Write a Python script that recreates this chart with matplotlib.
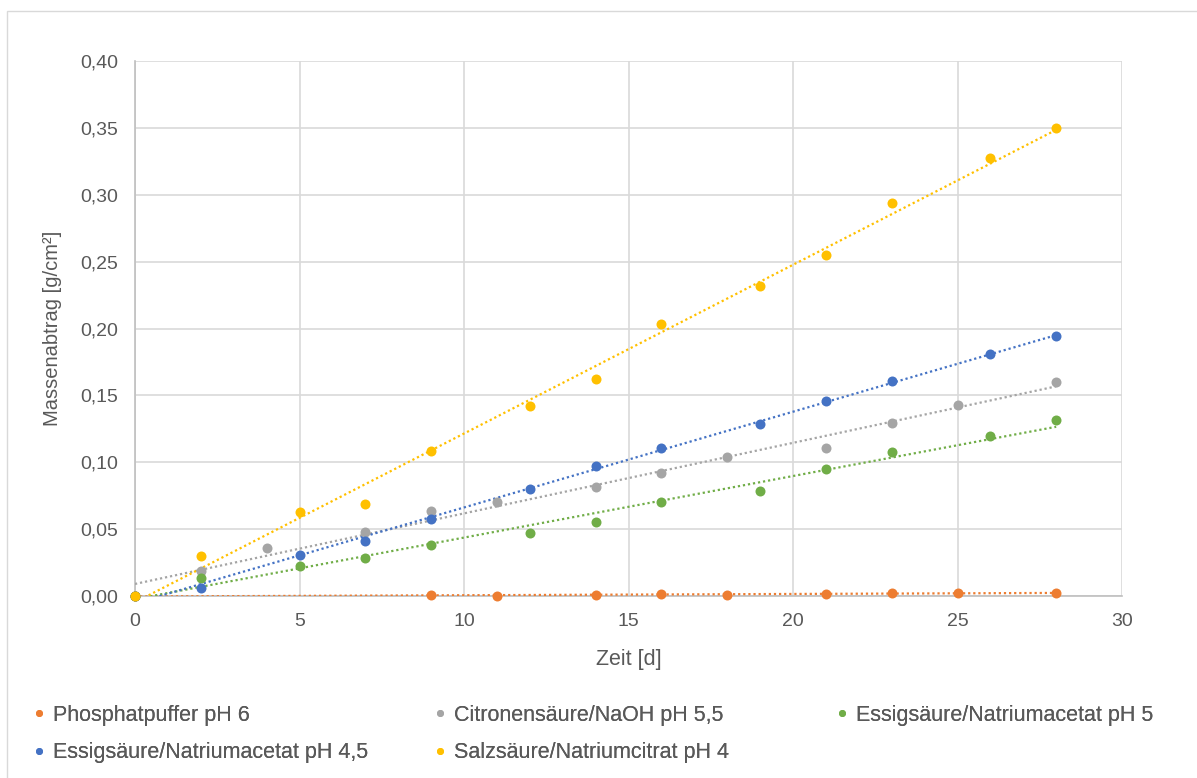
import numpy as np
import matplotlib
matplotlib.use("Agg")
import matplotlib.pyplot as plt
from matplotlib.lines import Line2D
from matplotlib.patches import Rectangle
from matplotlib.ticker import FuncFormatter

plt.rcParams['font.family'] = ['Liberation Sans', 'DejaVu Sans']

# ---- data ----
x_orange = [0, 9, 11, 14, 16, 18, 21, 23, 25, 28]
y_orange = [0.0, 0.0005, 0.0002, 0.0005, 0.0015, 0.0010, 0.0017, 0.0022, 0.0022, 0.0022]

x_gray = [0, 2, 4, 7, 9, 11, 14, 16, 18, 21, 23, 25, 28]
y_gray = [0.0, 0.019, 0.0357, 0.0479, 0.0638, 0.0705, 0.0815, 0.0917, 0.104, 0.1104, 0.1291, 0.1426, 0.160]

x_green = [0, 2, 5, 7, 9, 12, 14, 16, 19, 21, 23, 26, 28]
y_green = [0.0, 0.0135, 0.0227, 0.0282, 0.038, 0.0474, 0.0551, 0.0703, 0.0783, 0.0947, 0.1077, 0.1196, 0.1316]

x_blue = [0, 2, 5, 7, 9, 12, 14, 16, 19, 21, 23, 26, 28]
y_blue = [0.0, 0.0062, 0.0304, 0.0409, 0.0573, 0.080, 0.0972, 0.1104, 0.1284, 0.1455, 0.1607, 0.1812, 0.1946]

x_yellow = [0, 2, 5, 7, 9, 12, 14, 16, 19, 21, 23, 26, 28]
y_yellow = [0.0, 0.030, 0.0626, 0.0688, 0.1087, 0.142, 0.162, 0.2030, 0.2318, 0.255, 0.2938, 0.3277, 0.3497]

labels = ["Phosphatpuffer pH 6", "Citronensäure/NaOH pH 5,5",
          "Essigsäure/Natriumacetat pH 5", "Essigsäure/Natriumacetat pH 4,5",
          "Salzsäure/Natriumcitrat pH 4"]
colors = ["#ED7D31", "#A5A5A5", "#70AD47", "#4472C4", "#FFC000"]
series = [(x_orange, y_orange), (x_gray, y_gray), (x_green, y_green),
          (x_blue, y_blue), (x_yellow, y_yellow)]

x_ticks = [0, 5, 10, 15, 20, 25, 30]
y_ticks = [0.0, 0.05, 0.10, 0.15, 0.20, 0.25, 0.30, 0.35, 0.40]

# ---- figure ----
W, H = 1197, 778
fig = plt.figure(figsize=(W / 100, H / 100), dpi=100)
ax = fig.add_axes([135 / W, 1 - 596 / H, (1122 - 135) / W, (596 - 61) / H])

# border of chart area
fig.add_artist(Rectangle((7 / W, -0.1), 1.2, 1 - 11.5 / H + 0.1, transform=fig.transFigure,
                         fill=False, edgecolor="#d9d9d9", linewidth=1.0))

handles = []
for (xs, ys), c, lab in zip(series, colors, labels):
    xs = np.array(xs, float)
    ys = np.array(ys, float)
    m, b = np.polyfit(xs, ys, 1)
    xt = np.linspace(xs.min(), xs.max(), 200)
    ax.plot(xt, m * xt + b, color=c, linewidth=1.6, linestyle=(0, (1, 1.3)),
            zorder=3, clip_on=True)
    ax.plot(xs, ys, 'o', color=c, markersize=7.2, markeredgewidth=0, zorder=4,
            clip_on=False)
    handles.append(Line2D([], [], marker='o', linestyle='none', color=c,
                          markersize=5, markeredgewidth=0, label=lab))

ax.set_xlim(0, 30)
ax.set_ylim(0, 0.40)
ax.set_xticks(x_ticks)
ax.set_yticks(y_ticks)
ax.yaxis.set_major_formatter(FuncFormatter(lambda v, p: f"{v:.2f}".replace('.', ',')))
ax.xaxis.set_major_formatter(FuncFormatter(lambda v, p: f"{int(round(v))}"))
ax.grid(True, color="#d9d9d9", linewidth=1.2)
ax.set_axisbelow(True)
for s in ['top', 'right']:
    ax.spines[s].set_visible(False)
for s in ['left', 'bottom']:
    ax.spines[s].set_color("#bfbfbf")
    ax.spines[s].set_linewidth(1.2)
ax.tick_params(length=0, labelsize=14, labelcolor="#595959")
ax.tick_params(axis='y', pad=12)
ax.tick_params(axis='x', pad=12)
ax.set_xlabel("Zeit [d]", fontsize=15.5, color="#595959", labelpad=14)
ax.set_ylabel("Massenabtrag [g/cm²]", fontsize=14.5, color="#595959", labelpad=13)

# legend in three columns, row-wise order
cols = [([handles[0], handles[3]], 33), ([handles[1], handles[4]], 434),
        ([handles[2]], 836)]
for hs, xpix in cols:
    leg = fig.legend(handles=hs, loc='upper left',
                     bbox_to_anchor=(xpix / W, 1 - 705 / H),
                     frameon=False, fontsize=15.5, handlelength=0.6,
                     handletextpad=0.35, labelspacing=0.75, borderpad=0,
                     borderaxespad=0)
    for t in leg.get_texts():
        t.set_color("#595959")
    fig.add_artist(leg)

fig.savefig("out.png", dpi=100)
